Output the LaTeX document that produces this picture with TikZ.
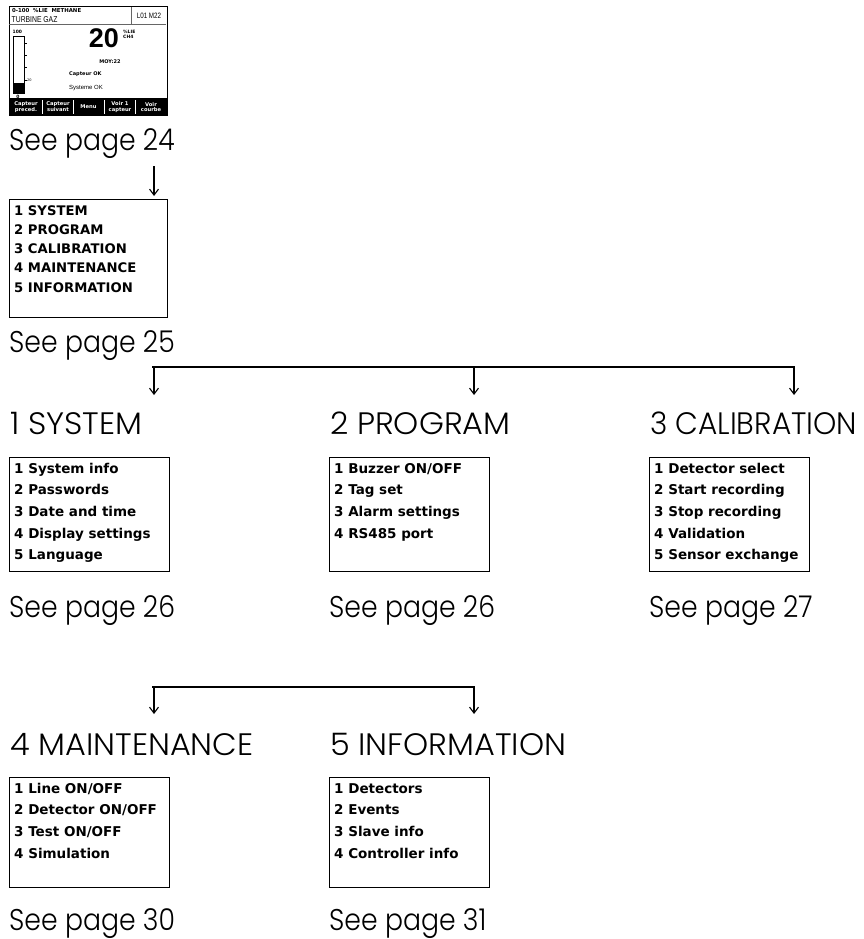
\documentclass[tikz,border=0pt]{standalone}
\usepackage{fontspec}
\setmainfont{DejaVu Sans}
\newfontfamily\capfont{Poppins Light}[FakeStretch=0.89]
\newfontfamily\headfont{Poppins Light}[FakeStretch=1.03]
\newfontfamily\headfontc{Poppins Light}[FakeStretch=0.955]
\newfontfamily\lcd{DejaVu Sans}
\newfontfamily\scrfont{Liberation Sans}
\newfontfamily\narrowfont{Liberation Sans}[FakeStretch=0.8]
\usetikzlibrary{arrows.meta}
\begin{document}
\begin{tikzpicture}[x=1pt,y=-1pt,
  menubox/.style={draw, line width=1.1pt, anchor=north west, minimum width=160pt, minimum height=114pt, inner sep=0pt},
  item/.style={anchor=base west, inner sep=0pt, font=\lcd\bfseries\fontsize{13.5}{16}\selectfont},
  caption/.style={anchor=base west, inner sep=0pt, font=\capfont\fontsize{30}{36}\selectfont},
  heading/.style={anchor=base west, inner sep=0pt, font=\headfont\fontsize{31}{36}\selectfont},
  tiny/.style={inner sep=0pt, font=\lcd\bfseries\fontsize{4.5}{5}\selectfont},
  bar/.style={line width=2pt},
  arr/.style={line width=1.1pt, -{Straight Barb[length=6pt,width=9pt]}},
]
\useasboundingbox (0,0) rectangle (863,939);
% ---------- screen ----------
\node[draw, line width=1pt, anchor=north west, minimum width=158pt, minimum height=109pt, inner sep=0pt] (scr) at (8.5,6.5) {};
\draw[line width=0.6pt, black!60] (9,24) -- (166,24);
\draw[line width=0.6pt, black!60] (131,7) -- (131,24);
\node[tiny, anchor=west, font=\lcd\bfseries\fontsize{5.4}{6}\selectfont] (scrt1) at (12,11) {0-100\ \ \%LIE\ \ METHANE};
\node[anchor=west, inner sep=0pt, font=\narrowfont\fontsize{8.5}{9}\selectfont] (scrt2) at (11.5,19.5) {TURBINE GAZ};
\node[inner sep=0pt, font=\narrowfont\fontsize{7.8}{8}\selectfont] (scrt3) at (149,15.5) {L01 M22};
\node[tiny, anchor=west] (scr100) at (12.5,32) {100};
\draw[line width=0.5pt] (13,36) rectangle (24,93);
\fill (13,83) rectangle (24,93);
\foreach \yy in {43,55,67,80} \draw[line width=0.4pt] (24,\yy) -- (26.5,\yy);
\node[tiny, anchor=west, font=\lcd\fontsize{3.5}{4}\selectfont] (scr20) at (27,80) {20};
\node[tiny] (scr0) at (18,97) {0};
\node[inner sep=0pt, font=\scrfont\bfseries\fontsize{27}{27}\selectfont] (scrval) at (104,38) {20};
\node[tiny, anchor=west] (scrlie) at (123,31.5) {\%LIE};
\node[tiny, anchor=west] (scrch) at (123,37) {CH4};
\node[inner sep=0pt, font=\lcd\bfseries\fontsize{5}{6}\selectfont] (scrmoy) at (110,62) {MOY:22};
\node[anchor=west, inner sep=0pt, font=\lcd\bfseries\fontsize{5}{6}\selectfont] (scrcap) at (69,74) {Capteur OK};
\node[anchor=west, inner sep=0pt, font=\scrfont\fontsize{6}{7}\selectfont] (scrsys) at (69,88) {Systeme OK};
\fill (8.5,98) rectangle (166.5,116);
\foreach \cx/\lab [count=\i] in {26/{Capteur\\preced.}, 58/{Capteur\\suivant}, 88.5/{Menu}, 120/{Voir 1\\capteur}, 151/{Voir\\courbe}}
  \node[align=center, text=white, inner sep=0pt, font=\lcd\bfseries\fontsize{5.2}{5.8}\selectfont] (key\i) at (\cx,107) {\lab};
\foreach \sx in {42.5,73.5,104.5,135.5} \draw[white, line width=0.6pt] (\sx,100) -- (\sx,114);
% ---------- main menu ----------
\node[caption] (p24) at (9,150) {See page 24};
\coordinate (a0) at (154,166);
\node[menubox, minimum width=158pt, minimum height=118pt] (menu) at (9,199) {};
\draw[arr, shorten >=3pt] (a0) -- (menu.north -| a0);
\foreach \t [count=\i] in {1 SYSTEM, 2 PROGRAM, 3 CALIBRATION, 4 MAINTENANCE, 5 INFORMATION}
  \node[item, font=\lcd\bfseries\fontsize{13.2}{16}\selectfont] (menu\i) at (14,{215+(\i-1)*19.3}) {\t};
\node[caption] (p25) at (9,352) {See page 25};
% ---------- row 1 ----------
\coordinate (j1) at (154,367); \coordinate (j2) at (474,367); \coordinate (j3) at (794,367);
\coordinate (e1) at (154,395); \coordinate (e2) at (474,395); \coordinate (e3) at (794,395);
\draw[bar] ([xshift=-2pt]j1) -- ([xshift=1pt]j3);
\foreach \k in {1,2,3} \draw[arr] (j\k) -- (e\k);
\node[heading] (h1) at (10,434) {1 SYSTEM};
\node[heading] (h2) at (330,434) {2 PROGRAM};
\node[heading, font=\headfontc\fontsize{31}{36}\selectfont] (h3) at (650,434) {3 CALIBRATION};
\node[menubox] (b1) at (9,457) {};
\node[menubox] (b2) at (329,457) {};
\node[menubox] (b3) at (649,457) {};
\foreach \t [count=\i] in {1 System info, 2 Passwords, 3 Date and time, 4 Display settings, 5 Language}
  \node[item] (b1i\i) at (14,{473+(\i-1)*21.7}) {\t};
\foreach \t [count=\i] in {1 Buzzer ON/OFF, 2 Tag set, 3 Alarm settings, 4 RS485 port}
  \node[item] (b2i\i) at (334,{473+(\i-1)*21.7}) {\t};
\foreach \t [count=\i] in {1 Detector select, 2 Start recording, 3 Stop recording, 4 Validation, 5 Sensor exchange}
  \node[item] (b3i\i) at (654,{473+(\i-1)*21.7}) {\t};
\node[caption] (p26a) at (9,617) {See page 26};
\node[caption] (p26b) at (329,617) {See page 26};
\node[caption] (p27) at (649,617) {See page 27};
% ---------- row 2 ----------
\coordinate (k1) at (154,687); \coordinate (k2) at (474,687);
\coordinate (f1) at (154,714); \coordinate (f2) at (474,714);
\draw[bar] ([xshift=-2pt]k1) -- ([xshift=1pt]k2);
\foreach \k in {1,2} \draw[arr] (k\k) -- (f\k);
\node[heading] (h4) at (10,755) {4 MAINTENANCE};
\node[heading] (h5) at (330,755) {5 INFORMATION};
\node[menubox, minimum height=110pt] (b4) at (9,777) {};
\node[menubox, minimum height=110pt] (b5) at (329,777) {};
\foreach \t [count=\i] in {1 Line ON/OFF, 2 Detector ON/OFF, 3 Test ON/OFF, 4 Simulation}
  \node[item] (b4i\i) at (14,{793+(\i-1)*21.7}) {\t};
\foreach \t [count=\i] in {1 Detectors, 2 Events, 3 Slave info, 4 Controller info}
  \node[item] (b5i\i) at (334,{793+(\i-1)*21.7}) {\t};
\node[caption] (p30) at (9,930) {See page 30};
\node[caption] (p31) at (329,930) {See page 31};
\end{tikzpicture}
\end{document}
